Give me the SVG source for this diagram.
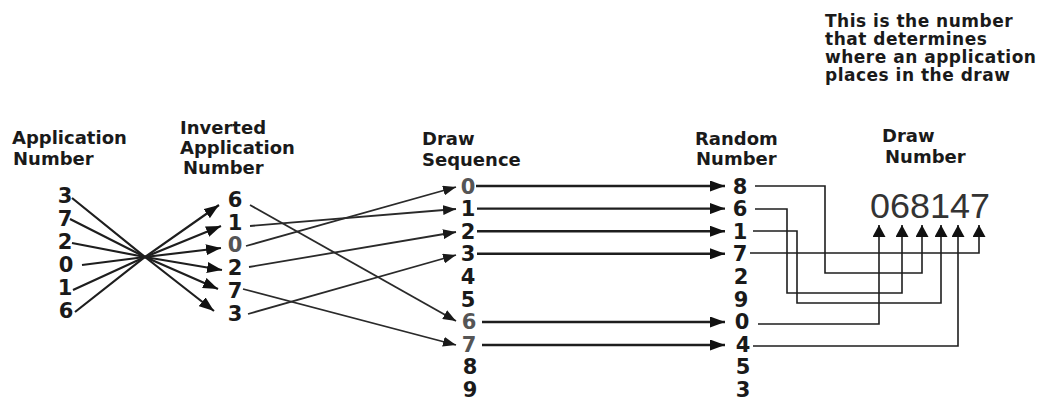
<svg xmlns="http://www.w3.org/2000/svg" width="1047" height="400" viewBox="0 0 1047 400">
<style>
  .lbl { font-family: "DejaVu Sans", "Liberation Sans", sans-serif; font-weight: bold; font-size: 18px; fill: #1a1a1a; }
  .note { font-family: "DejaVu Sans", "Liberation Sans", sans-serif; font-weight: bold; font-size: 17px; letter-spacing: 0.5px; fill: #1a1a1a; }
  .dg { font-family: "DejaVu Sans", "Liberation Sans", sans-serif; font-weight: bold; font-size: 21px; fill: #1a1a1a; text-anchor: middle; }
  .dgg { fill: #555; }
  .big { font-family: "Liberation Sans", Arial, sans-serif; font-size: 35px; fill: #333; }
  .ln { fill: none; stroke: #1e1e1e; stroke-linejoin: miter; }
  .cross { stroke-width: 2.2; marker-end: url(#ah); }
  .diag { stroke-width: 1.8; stroke: #2a2a2a; marker-end: url(#ahs); }
  .hz { stroke-width: 2.4; marker-end: url(#ah); }
  .el { stroke-width: 1.6; marker-end: url(#ahu); }
</style>
<defs>
  <marker id="ah" viewBox="0 0 15 11" refX="15" refY="5.5" markerWidth="15" markerHeight="11" orient="auto" markerUnits="userSpaceOnUse">
    <path d="M0,0 L15,5.5 L0,11 z" fill="#111"/>
  </marker>
  <marker id="ahs" viewBox="0 0 13 10" refX="13" refY="5" markerWidth="13" markerHeight="10" orient="auto" markerUnits="userSpaceOnUse">
    <path d="M0,0 L13,5 L0,10 z" fill="#1a1a1a"/>
  </marker>
  <marker id="ahu" viewBox="0 0 12 13" refX="12" refY="6.5" markerWidth="12" markerHeight="13" orient="auto" markerUnits="userSpaceOnUse">
    <path d="M0,0 L12,6.5 L0,13 z" fill="#111"/>
  </marker>
</defs>
<rect width="1047" height="400" fill="#fff"/>

<g id="note">
  <text class="note" x="825" y="27">This is the number</text>
  <text class="note" x="825" y="45">that determines</text>
  <text class="note" x="825" y="63">where an application</text>
  <text class="note" x="825" y="81">places in the draw</text>
</g>

<g id="application-number">
  <text class="lbl" x="12" y="144">Application</text>
  <text class="lbl" x="13" y="165">Number</text>
  <text id="app-3" class="dg" x="65" y="203">3</text>
  <text id="app-7" class="dg" x="65" y="226">7</text>
  <text id="app-2" class="dg" x="65" y="249">2</text>
  <text id="app-0" class="dg" x="66" y="272">0</text>
  <text id="app-1" class="dg" x="65" y="295">1</text>
  <text id="app-6" class="dg" x="66" y="318">6</text>
</g>

<g id="inverted-application-number">
  <text class="lbl" x="180" y="134">Inverted</text>
  <text class="lbl" x="180" y="154">Application</text>
  <text class="lbl" x="183" y="174">Number</text>
  <text id="inv-6" class="dg" x="235" y="207">6</text>
  <text id="inv-1" class="dg" x="235" y="230">1</text>
  <text id="inv-0" class="dg dgg" x="235" y="252">0</text>
  <text id="inv-2" class="dg" x="235" y="275">2</text>
  <text id="inv-7" class="dg" x="235" y="298">7</text>
  <text id="inv-3" class="dg" x="235" y="321">3</text>
</g>

<g id="draw-sequence">
  <text class="lbl" x="422" y="145">Draw</text>
  <text class="lbl" x="422" y="166">Sequence</text>
  <text id="seq-0" class="dg dgg" x="468" y="193.6">0</text>
  <text id="seq-1" class="dg" x="468" y="216.2">1</text>
  <text id="seq-2" class="dg" x="468" y="238.8">2</text>
  <text id="seq-3" class="dg" x="468" y="261.4">3</text>
  <text id="seq-4" class="dg" x="468" y="284">4</text>
  <text id="seq-5" class="dg" x="468" y="306.6">5</text>
  <text id="seq-6" class="dg dgg" x="469" y="329.2">6</text>
  <text id="seq-7" class="dg dgg" x="469" y="351.8">7</text>
  <text id="seq-8" class="dg" x="470" y="374.4">8</text>
  <text id="seq-9" class="dg" x="470" y="397">9</text>
</g>

<g id="random-number">
  <text class="lbl" x="695" y="145">Random</text>
  <text class="lbl" x="696" y="165">Number</text>
  <text id="rnd-8" class="dg" x="740" y="193.6">8</text>
  <text id="rnd-6" class="dg" x="740" y="216.2">6</text>
  <text id="rnd-1" class="dg" x="740" y="238.8">1</text>
  <text id="rnd-7" class="dg" x="740" y="261.4">7</text>
  <text id="rnd-2" class="dg" x="741" y="284">2</text>
  <text id="rnd-9" class="dg" x="741" y="306.6">9</text>
  <text id="rnd-0" class="dg" x="742" y="329.2">0</text>
  <text id="rnd-4" class="dg" x="743" y="351.8">4</text>
  <text id="rnd-5" class="dg" x="743" y="374.4">5</text>
  <text id="rnd-3" class="dg" x="743" y="397">3</text>
</g>

<g id="draw-number">
  <text class="lbl" x="882" y="142">Draw</text>
  <text class="lbl" x="885" y="163">Number</text>
  <text class="big" x="870" y="218" textLength="120" lengthAdjust="spacingAndGlyphs">068147</text>
</g>

<g id="connectors">
  <!-- application number -> inverted (crossing at one point) -->
  <path class="ln cross" d="M72,198 L145,257 L214,311"/>
  <path class="ln cross" d="M70,219 L145,257 L218,289"/>
  <path class="ln cross" d="M72,243 L145,257 L222,270"/>
  <path class="ln cross" d="M82,265 L145,257 L221,248"/>
  <path class="ln cross" d="M73,290 L145,257 L221,226"/>
  <path class="ln cross" d="M75,312 L145,257 L219,205"/>
  <!-- inverted -> draw sequence -->
  <path class="ln diag" d="M250,205 L456,321"/>
  <path class="ln diag" d="M250,226 L456,209"/>
  <path class="ln diag" d="M246,246 L456,187"/>
  <path class="ln diag" d="M249,267 L456,232"/>
  <path class="ln diag" d="M243,289 L456,345"/>
  <path class="ln diag" d="M248,314 L456,255"/>
  <!-- draw sequence -> random number -->
  <path class="ln hz" d="M476,186 H725"/>
  <path class="ln hz" d="M477,208.6 H725"/>
  <path class="ln hz" d="M477,231.2 H725"/>
  <path class="ln hz" d="M477,253.8 H725"/>
  <path class="ln hz" d="M482,322 H725"/>
  <path class="ln hz" d="M482,345 H725"/>
  <!-- random number -> draw number digits -->
  <path class="ln el" d="M755,186 H825 V273 H922 V225"/>
  <path class="ln el" d="M755,209 H787 V293 H902 V225"/>
  <path class="ln el" d="M753,231 H797 V303 H941 V225"/>
  <path class="ln el" d="M750,253 H979 V225"/>
  <path class="ln el" d="M758,324 H879 V225"/>
  <path class="ln el" d="M753,346 H958 V225"/>
</g>
</svg>
